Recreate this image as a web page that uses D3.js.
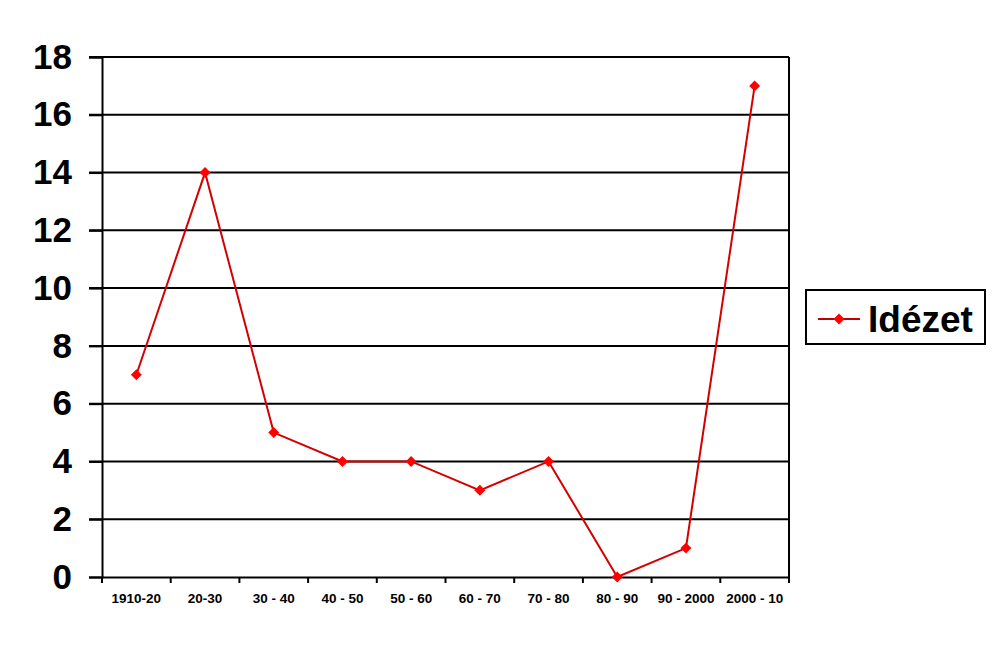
<!DOCTYPE html>
<html><head><meta charset="utf-8">
<script src="https://cdn.jsdelivr.net/npm/d3@7"></script>
<style>body{margin:0;background:#fff}svg{display:block}text{font-family:"Liberation Sans",Arial,sans-serif;font-weight:bold;fill:#000}</style>
</head><body>
<script>
const categories = ["1910-20","20-30","30 - 40","40 - 50","50 - 60","60 - 70","70 - 80","80 - 90","90 - 2000","2000 - 10"];
const values = [7,14,5,4,4,3,4,0,1,17];
const yTicks = [0,2,4,6,8,10,12,14,16,18];
const seriesName = "Idézet";

const W=1000,H=667;
const m={left:102,right:211,top:57,bottom:90};
const svg=d3.select("body").append("svg").attr("width",W).attr("height",H);
const x=d3.scaleBand().domain(categories).range([m.left,W-m.right]);
const y=d3.scaleLinear().domain([0,18]).range([H-m.bottom,m.top]);

// gridlines
svg.append("g").selectAll("line").data(yTicks.filter(d=>d>0)).join("line")
  .attr("x1",m.left-13).attr("x2",W-m.right).attr("y1",d=>y(d)).attr("y2",d=>y(d))
  .attr("stroke","#000").attr("stroke-width",2);
// right border
svg.append("line").attr("x1",W-m.right).attr("x2",W-m.right).attr("y1",m.top).attr("y2",y(0))
  .attr("stroke","#000").attr("stroke-width",2);

// y axis
const ya=svg.append("g").attr("transform",`translate(${m.left},0)`)
  .call(d3.axisLeft(y).tickValues(yTicks).tickSize(13).tickPadding(17));
ya.select(".domain").attr("stroke","#000").attr("stroke-width",2);
ya.selectAll(".tick line").attr("stroke","#000").attr("stroke-width",2);
ya.selectAll("text").style("font-size","35px").style("font-weight","bold").attr("fill","#000");

// x axis
const xa=svg.append("g").attr("transform",`translate(0,${y(0)})`)
  .call(d3.axisBottom(x).tickSize(0).tickPadding(16));
xa.select(".domain").attr("stroke","#000").attr("stroke-width",2);
xa.selectAll("text").style("font-size","13.5px").style("font-weight","bold").attr("fill","#000");
svg.append("g").selectAll("line").data(d3.range(categories.length+1)).join("line")
  .attr("x1",i=>m.left+i*x.step()).attr("x2",i=>m.left+i*x.step())
  .attr("y1",y(0)).attr("y2",y(0)+6).attr("stroke","#000").attr("stroke-width",2);

// line
const line=d3.line().x((d,i)=>x(categories[i])+x.bandwidth()/2).y(d=>y(d));
svg.append("path").datum(values).attr("d",line).attr("fill","none")
  .attr("stroke","#d40000").attr("stroke-width",2);
const diamond=d3.symbol().type(d3.symbolSquare).size(60);
svg.append("g").selectAll("path").data(values).join("path")
  .attr("d",diamond)
  .attr("transform",(d,i)=>`translate(${x(categories[i])+x.bandwidth()/2},${y(d)}) rotate(45)`)
  .attr("fill","#ff0000");

// legend
const lg=svg.append("g");
lg.append("rect").attr("x",806).attr("y",290).attr("width",179).attr("height",54)
  .attr("fill","#fff").attr("stroke","#000").attr("stroke-width",2);
lg.append("line").attr("x1",818).attr("x2",860).attr("y1",319).attr("y2",319)
  .attr("stroke","#c00000").attr("stroke-width",2);
lg.append("path").attr("d",diamond).attr("transform","translate(839,319) rotate(45)").attr("fill","#ff0000");
lg.append("text").attr("x",868).attr("y",332).style("font-size","37px").text(seriesName);
</script>
</body></html>
